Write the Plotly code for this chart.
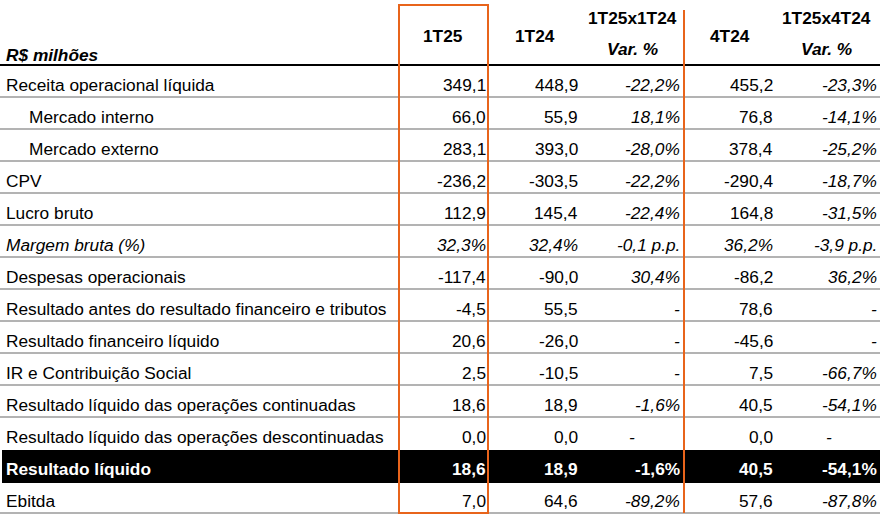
import plotly.graph_objects as go

labels = [
    "Receita operacional líquida", "Mercado interno", "Mercado externo", "CPV",
    "Lucro bruto", "Margem bruta (%)", "Despesas operacionais",
    "Resultado antes do resultado financeiro e tributos",
    "Resultado financeiro líquido", "IR e Contribuição Social",
    "Resultado líquido das operações continuadas",
    "Resultado líquido das operações descontinuadas",
    "Resultado líquido", "Ebitda",
]
q1t25 = ["349,1", "66,0", "283,1", "-236,2", "112,9", "32,3%", "-117,4", "-4,5",
         "20,6", "2,5", "18,6", "0,0", "18,6", "7,0"]
q1t24 = ["448,9", "55,9", "393,0", "-303,5", "145,4", "32,4%", "-90,0", "55,5",
         "-26,0", "-10,5", "18,9", "0,0", "18,9", "64,6"]
var_1t24 = ["-22,2%", "18,1%", "-28,0%", "-22,2%", "-22,4%", "-0,1 p.p.", "30,4%", "-",
            "-", "-", "-1,6%", "-", "-1,6%", "-89,2%"]
q4t24 = ["455,2", "76,8", "378,4", "-290,4", "164,8", "36,2%", "-86,2", "78,6",
         "-45,6", "7,5", "40,5", "0,0", "40,5", "57,6"]
var_4t24 = ["-23,3%", "-14,1%", "-25,2%", "-18,7%", "-31,5%", "-3,9 p.p.", "36,2%", "-",
            "-", "-66,7%", "-54,1%", "-", "-54,1%", "-87,8%"]

indented = {1, 2}
italic_rows = {5}
bold_row = 12
centered_dash_row = 11

FONT = "Liberation Sans, Arial, sans-serif"
ORANGE = "#E8641B"
TOP = 65
ROW_H = 32
SIZE = 17.3

fig = go.Figure()
shapes = []
ann = []


def text(x, y, s, anchor="right", bold=False, italic=False, color="black", size=SIZE):
    if bold:
        s = f"<b>{s}</b>"
    if italic:
        s = f"<i>{s}</i>"
    ann.append(dict(x=x, y=y, text=s, xanchor=anchor, yanchor="middle", showarrow=False,
                    font=dict(family=FONT, size=size, color=color)))


# header
text(4, 55, "R$ milhões", anchor="left", bold=True, italic=True)
text(443, 36, "1T25", anchor="center", bold=True)
text(535, 36, "1T24", anchor="center", bold=True)
text(632, 18, "1T25x1T24", anchor="center", bold=True)
text(632, 49, "Var. %", anchor="center", bold=True, italic=True)
text(730, 36, "4T24", anchor="center", bold=True)
text(826, 18, "1T25x4T24", anchor="center", bold=True)
text(826, 49, "Var. %", anchor="center", bold=True, italic=True)

cols = [(488, q1t25, False), (580, q1t24, False), (682, var_1t24, True),
        (775, q4t24, False), (879, var_4t24, True)]

for i, lab in enumerate(labels):
    y0 = TOP + i * ROW_H
    yc = y0 + ROW_H / 2 + 4
    bold = i == bold_row
    color = "white" if bold else "black"
    if bold:
        shapes.append(dict(type="rect", x0=2, x1=880, y0=y0 + 1, y1=y0 + ROW_H + 2,
                           fillcolor="black", line_width=0, layer="below"))
    text(27 if i in indented else 4, yc, lab, anchor="left", bold=bold,
         italic=i in italic_rows, color=color)
    for x, vals, ital in cols:
        v = vals[i]
        it = (ital or i in italic_rows) and not bold
        if i == centered_dash_row and v == "-":
            text(x - 50, yc, v, anchor="center", italic=it, color=color)
        else:
            text(x, yc, v, italic=it, bold=bold, color=color)
    if i != bold_row - 1 and i != bold_row:
        shapes.append(dict(type="line", x0=0, x1=880, y0=y0 + ROW_H, y1=y0 + ROW_H,
                           line=dict(color="#9a9a9a", width=1.5)))

shapes.append(dict(type="line", x0=0, x1=880, y0=TOP, y1=TOP, line=dict(color="black", width=2)))
shapes.append(dict(type="rect", x0=399, x1=488, y0=5, y1=513, line=dict(color=ORANGE, width=2)))
shapes.append(dict(type="line", x0=684, x1=684, y0=10, y1=513, line=dict(color=ORANGE, width=2)))

fig.update_layout(
    width=880, height=515, margin=dict(l=0, r=0, t=0, b=0),
    plot_bgcolor="white", paper_bgcolor="white",
    xaxis=dict(range=[0, 880], visible=False, fixedrange=True),
    yaxis=dict(range=[515, 0], visible=False, fixedrange=True),
    shapes=shapes, annotations=ann, showlegend=False,
)
fig.write_html(
    "out.html",
    config={"displayModeBar": False},
    post_script="document.body.style.margin='0';document.body.style.overflow='hidden';",
)
